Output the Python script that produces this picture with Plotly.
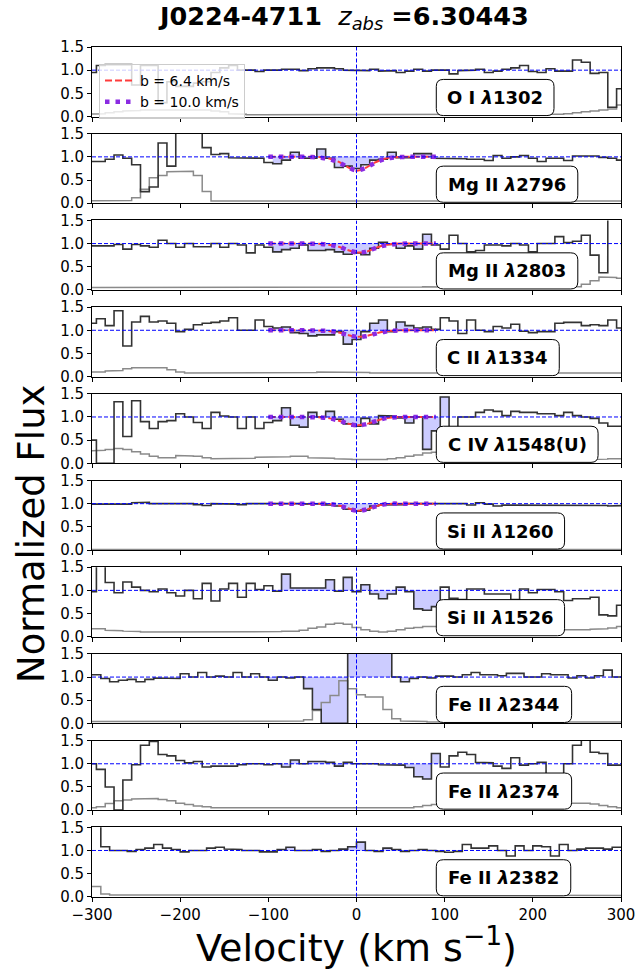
import numpy as np
import plotly.graph_objects as go

# ---------------- data ----------------
V10 = np.arange(-300, 301, 10)      # bin centres (km/s), 61 bins
V5 = np.arange(-295, 296, 10)       # bin centres (km/s), 60 bins
V_MODEL = np.arange(-100, 91, 10)   # model sampling (km/s)

IONS = ["O I", "Mg II", "Mg II", "C II", "C IV", "Si II", "Si II", "Fe II", "Fe II", "Fe II"]
WAVES = ["1302", "2796", "2803", "1334", "1548(U)", "1260", "1526", "2344", "2374", "2382"]

flux_OI1302 = [0.95, 1.10, 1.12, 1.12, 1.12, 0.68, 1.10, 1.10, 0.30, 0.75, 0.65,
               0.65, 0.72, 0.75, 0.95, 1.05, 1.10, 1.00, 1.00, 0.97, 1.00,
               1.00, 1.02, 1.02, 0.99, 1.03, 1.05, 1.05, 1.03, 1.00, 1.00,
               0.99, 1.02, 0.98, 0.99, 0.95, 0.98, 1.02, 0.98, 1.00, 1.00,
               0.92, 0.99, 1.00, 1.02, 0.95, 0.98, 1.02, 1.05, 1.10, 0.97,
               0.95, 1.03, 0.98, 0.98, 1.22, 1.17, 0.93, 0.95, 0.20, 0.60]
err_OI1302 = [0.05, 0.06, 0.08, 0.10, 0.12, 0.13, 0.14, 0.14, 0.14, 0.14, 0.14,
              0.14, 0.14, 0.14, 0.12, 0.10, 0.06, 0.05, 0.04, 0.04, 0.04,
              0.04, 0.04, 0.04, 0.04, 0.04, 0.04, 0.04, 0.04, 0.05, 0.05,
              0.05, 0.04, 0.04, 0.04, 0.04, 0.04, 0.04, 0.04, 0.04, 0.04,
              0.04, 0.04, 0.04, 0.04, 0.04, 0.04, 0.04, 0.04, 0.04, 0.04,
              0.04, 0.04, 0.05, 0.06, 0.08, 0.10, 0.12, 0.14, 0.16, 0.25]

flux_MgII2796 = [0.90, 0.90, 0.95, 1.04, 0.97, 0.83, 0.25, 0.35, 1.30, 0.80, 1.60,
                 1.60, 1.60, 1.20, 1.05, 1.07, 0.98, 0.98, 0.98, 0.97, 0.88,
                 0.85, 0.93, 1.10, 0.97, 0.97, 1.17, 0.97, 0.77, 0.80, 0.75,
                 0.83, 0.93, 0.95, 1.10, 0.98, 0.98, 1.07, 1.07, 0.97, 0.97,
                 0.96, 0.96, 0.95, 0.95, 0.92, 1.03, 0.97, 1.00, 1.03, 0.97,
                 0.90, 0.97, 0.97, 0.92, 1.02, 1.03, 1.02, 0.99, 0.97, 0.93]
err_MgII2796 = [0.05, 0.05, 0.05, 0.05, 0.06, 0.12, 0.30, 0.55, 0.60, 0.68, 0.69,
                0.69, 0.60, 0.25, 0.05, 0.05, 0.05, 0.05, 0.05, 0.05, 0.05,
                0.05, 0.05, 0.05, 0.06, 0.06, 0.06, 0.06, 0.06, 0.06, 0.06,
                0.06, 0.06, 0.05, 0.05, 0.05, 0.05, 0.05, 0.05, 0.05, 0.05,
                0.05, 0.05, 0.05, 0.05, 0.05, 0.05, 0.05, 0.05, 0.05, 0.05,
                0.05, 0.05, 0.05, 0.05, 0.05, 0.05, 0.05, 0.05, 0.05, 0.05]

flux_MgII2803 = [0.95, 0.95, 0.95, 0.98, 0.88, 0.98, 0.95, 0.92, 1.07, 1.00, 0.92,
                 1.00, 0.93, 0.93, 1.00, 0.92, 1.00, 0.97, 0.80, 0.97, 0.92,
                 0.82, 0.87, 0.90, 0.97, 0.85, 0.85, 0.87, 0.82, 0.77, 0.80,
                 0.76, 0.90, 1.03, 0.98, 0.90, 0.95, 0.88, 1.20, 0.97, 0.88,
                 1.18, 1.00, 0.82, 0.85, 0.97, 0.97, 0.95, 1.00, 0.97, 0.82,
                 1.00, 1.00, 1.15, 1.02, 1.05, 1.18, 0.75, 0.37, 1.60, 1.60]
err_MgII2803 = [0.05, 0.05, 0.05, 0.05, 0.05, 0.05, 0.05, 0.05, 0.05, 0.05, 0.05,
                0.05, 0.05, 0.05, 0.05, 0.05, 0.05, 0.05, 0.05, 0.05, 0.05,
                0.05, 0.05, 0.05, 0.05, 0.05, 0.05, 0.05, 0.05, 0.05, 0.05,
                0.05, 0.05, 0.05, 0.05, 0.05, 0.06, 0.06, 0.07, 0.07, 0.07,
                0.07, 0.07, 0.06, 0.06, 0.05, 0.05, 0.05, 0.05, 0.05, 0.05,
                0.05, 0.05, 0.05, 0.06, 0.07, 0.12, 0.20, 0.28, 0.27, 0.25]

flux_CII1334 = [1.15, 1.25, 1.10, 1.42, 0.66, 1.18, 1.30, 1.18, 1.20, 1.15, 0.97,
                1.02, 1.12, 1.15, 1.17, 1.20, 1.27, 1.00, 1.00, 1.22, 1.08,
                1.05, 1.07, 0.95, 0.93, 0.88, 0.90, 0.90, 0.97, 0.70, 0.80,
                0.97, 1.15, 1.22, 0.97, 1.18, 1.10, 1.05, 1.07, 1.02, 1.27,
                1.20, 0.93, 1.22, 1.00, 0.97, 1.08, 1.05, 1.13, 0.98, 0.95,
                0.97, 0.97, 1.15, 1.17, 1.17, 1.10, 1.12, 1.10, 1.22, 1.05]
err_CII1334 = [0.10, 0.10, 0.12, 0.13, 0.17, 0.19, 0.20, 0.20, 0.19, 0.15, 0.10,
               0.08, 0.08, 0.08, 0.08, 0.08, 0.08, 0.08, 0.08, 0.08, 0.08,
               0.08, 0.08, 0.08, 0.08, 0.09, 0.10, 0.10, 0.10, 0.10, 0.10,
               0.09, 0.08, 0.08, 0.08, 0.08, 0.08, 0.08, 0.08, 0.08, 0.08,
               0.08, 0.08, 0.08, 0.08, 0.08, 0.08, 0.08, 0.08, 0.08, 0.08,
               0.08, 0.08, 0.08, 0.08, 0.08, 0.08, 0.08, 0.08, 0.08, 0.08]

flux_CIV1548 = [0.50, 0.00, 0.00, 1.33, 0.58, 1.35, 0.90, 0.75, 0.90, 0.92, 1.07,
                1.00, 0.88, 0.75, 1.10, 1.02, 1.00, 0.75, 1.00, 0.75, 0.88,
                0.92, 1.20, 0.82, 0.78, 1.10, 1.00, 1.12, 0.95, 0.85, 0.80,
                0.97, 0.85, 1.03, 1.02, 0.98, 0.87, 1.00, 0.30, 0.70, 1.43,
                0.55, 1.00, 1.00, 1.10, 1.15, 1.12, 1.03, 1.12, 1.10, 1.10,
                1.07, 1.07, 1.03, 1.10, 1.03, 1.00, 0.97, 0.87, 0.80, 0.80]
err_CIV1548 = [0.27, 0.28, 0.30, 0.32, 0.30, 0.25, 0.20, 0.15, 0.12, 0.12, 0.17,
               0.16, 0.15, 0.12, 0.10, 0.10, 0.10, 0.11, 0.11, 0.13, 0.13,
               0.14, 0.14, 0.15, 0.15, 0.12, 0.12, 0.11, 0.10, 0.09, 0.08,
               0.07, 0.07, 0.08, 0.10, 0.12, 0.15, 0.18, 0.22, 0.24, 0.25,
               0.25, 0.24, 0.22, 0.21, 0.20, 0.19, 0.18, 0.17, 0.16, 0.15,
               0.14, 0.13, 0.12, 0.11, 0.10, 0.09, 0.08, 0.09, 0.10, 0.10]

flux_SiII1260 = [0.99, 0.99, 0.99, 0.99, 0.99, 1.02, 1.03, 1.00, 1.00, 1.00, 1.00,
                 1.00, 0.98, 0.96, 1.00, 1.00, 0.99, 0.98, 1.00, 1.00, 1.01,
                 1.00, 1.00, 1.00, 0.99, 1.00, 1.00, 0.97, 0.95, 0.88, 0.84,
                 0.86, 0.95, 0.97, 0.98, 0.98, 1.00, 1.00, 1.00, 1.00, 1.00,
                 1.00, 1.00, 0.97, 1.02, 0.99, 0.95, 0.97, 0.97, 0.97, 0.97,
                 0.97, 0.97, 0.97, 0.96, 0.96, 0.96, 0.96, 0.96, 0.95, 0.96]
err_SiII1260 = [0.01] * 61

flux_SiII1526 = [0.97, 1.60, 1.17, 0.95, 1.18, 1.07, 1.00, 0.97, 1.03, 0.95, 0.88,
                 1.00, 0.82, 1.15, 0.77, 1.03, 1.15, 0.85, 1.15, 1.02, 1.10,
                 0.98, 1.35, 1.05, 1.05, 1.05, 1.05, 1.23, 0.98, 1.28, 0.97,
                 1.12, 0.92, 0.82, 0.92, 1.07, 0.97, 0.60, 0.57, 0.65, 1.07,
                 0.83, 0.80, 1.03, 1.03, 0.92, 0.92, 0.92, 0.80, 1.03, 0.95,
                 1.02, 1.02, 0.97, 0.78, 0.82, 0.82, 0.85, 0.47, 0.45, 0.68]
err_SiII1526 = [0.17, 0.17, 0.14, 0.13, 0.12, 0.11, 0.10, 0.10, 0.10, 0.10, 0.10,
                0.10, 0.10, 0.10, 0.10, 0.10, 0.10, 0.10, 0.10, 0.10, 0.10,
                0.11, 0.12, 0.12, 0.14, 0.18, 0.21, 0.27, 0.29, 0.27, 0.20,
                0.15, 0.12, 0.10, 0.12, 0.15, 0.18, 0.20, 0.22, 0.23, 0.22,
                0.22, 0.21, 0.21, 0.20, 0.20, 0.19, 0.18, 0.18, 0.17, 0.16,
                0.16, 0.15, 0.14, 0.14, 0.14, 0.15, 0.16, 0.17, 0.19, 0.22]

flux_FeII2344 = [1.05, 0.97, 0.90, 0.93, 0.95, 0.90, 0.95, 0.98, 0.97, 0.97,
                 1.07, 1.00, 1.10, 1.00, 1.02, 1.00, 1.10, 1.00, 1.07, 1.00,
                 0.93, 1.00, 0.98, 1.00, 0.75, 0.30, 0.00, 0.00, 0.00, 1.60,
                 1.60, 1.60, 1.60, 1.60, 1.00, 0.90, 0.97, 1.00, 0.98, 1.02,
                 1.02, 1.00, 1.05, 1.10, 1.05, 1.05, 1.03, 1.08, 1.08, 1.00,
                 1.00, 1.07, 1.05, 1.05, 0.98, 1.03, 0.98, 1.03, 1.15, 1.00]
err_FeII2344 = [0.04, 0.04, 0.04, 0.04, 0.05, 0.05, 0.04, 0.04, 0.05, 0.04,
                0.04, 0.05, 0.05, 0.04, 0.04, 0.04, 0.04, 0.04, 0.04, 0.04,
                0.04, 0.04, 0.04, 0.05, 0.08, 0.28, 0.45, 0.60, 0.92, 0.75,
                0.62, 0.57, 0.57, 0.30, 0.10, 0.05, 0.04, 0.04, 0.03, 0.03,
                0.03, 0.03, 0.03, 0.03, 0.03, 0.03, 0.03, 0.03, 0.03, 0.03,
                0.03, 0.03, 0.03, 0.03, 0.03, 0.03, 0.03, 0.03, 0.03, 0.03]

flux_FeII2374 = [1.00, 0.88, 0.50, 0.00, 0.65, 0.98, 1.40, 1.48, 1.20, 1.17, 1.07,
                 1.02, 1.05, 0.93, 0.95, 0.96, 0.95, 0.98, 1.00, 1.00, 0.98,
                 1.00, 0.93, 1.08, 1.00, 1.05, 1.05, 1.03, 0.95, 1.03, 1.00,
                 1.00, 1.00, 0.98, 0.97, 0.97, 0.92, 0.72, 0.67, 1.22, 0.93,
                 1.17, 1.25, 1.20, 1.03, 1.02, 0.95, 0.90, 1.13, 0.97, 1.00,
                 1.03, 0.60, 0.75, 1.00, 1.40, 1.55, 1.25, 1.22, 0.97, 0.97]
err_FeII2374 = [0.05, 0.07, 0.14, 0.20, 0.22, 0.24, 0.25, 0.25, 0.23, 0.20, 0.15,
                0.12, 0.09, 0.07, 0.05, 0.05, 0.05, 0.05, 0.05, 0.05, 0.05,
                0.05, 0.05, 0.05, 0.05, 0.05, 0.05, 0.05, 0.05, 0.05, 0.05,
                0.05, 0.05, 0.05, 0.05, 0.05, 0.05, 0.07, 0.10, 0.12, 0.13,
                0.12, 0.12, 0.12, 0.12, 0.12, 0.12, 0.11, 0.11, 0.10, 0.10,
                0.10, 0.12, 0.13, 0.15, 0.15, 0.15, 0.13, 0.10, 0.07, 0.05]

flux_FeII2382 = [1.55, 1.08, 1.00, 1.00, 0.98, 1.02, 1.05, 1.13, 1.05, 1.02,
                 0.97, 1.00, 1.00, 1.05, 1.07, 1.03, 1.02, 1.00, 1.00, 0.97,
                 0.97, 1.02, 1.07, 1.00, 1.00, 1.02, 0.98, 1.00, 1.03, 1.08,
                 1.18, 1.00, 0.98, 1.05, 1.02, 0.98, 1.00, 1.02, 1.00, 0.98,
                 0.96, 0.98, 1.13, 1.05, 1.05, 1.10, 1.00, 0.88, 1.10, 1.00,
                 1.10, 1.08, 0.88, 1.13, 1.00, 1.03, 1.05, 1.05, 1.03, 1.07]
err_FeII2382 = [0.22, 0.06, 0.04, 0.03, 0.03, 0.03, 0.03, 0.03, 0.03, 0.03,
                0.03, 0.03, 0.03, 0.03, 0.03, 0.03, 0.03, 0.03, 0.03, 0.03,
                0.03, 0.03, 0.03, 0.03, 0.03, 0.03, 0.03, 0.04, 0.04, 0.04,
                0.04, 0.04, 0.03, 0.03, 0.03, 0.03, 0.03, 0.03, 0.03, 0.03,
                0.03, 0.03, 0.03, 0.03, 0.03, 0.03, 0.03, 0.03, 0.03, 0.03,
                0.03, 0.03, 0.03, 0.03, 0.03, 0.03, 0.03, 0.03, 0.03, 0.03]

# Voigt-profile models, b = 6.4 and b = 10.0 km/s
model64_MgII2796 = [1.00, 1.00, 1.00, 1.00, 1.00, 1.00, 0.99, 0.96, 0.89, 0.78, 0.70, 0.76, 0.87, 0.95, 0.99, 1.00, 1.00, 1.00, 1.00, 1.00]
model10_MgII2796 = [1.00, 1.00, 1.00, 1.00, 1.00, 0.995, 0.98, 0.95, 0.88, 0.78, 0.71, 0.76, 0.86, 0.94, 0.98, 0.995, 1.00, 1.00, 1.00, 1.00]
model64_MgII2803 = [1.00, 1.00, 1.00, 1.00, 1.00, 1.00, 0.99, 0.97, 0.93, 0.86, 0.81, 0.82, 0.89, 0.96, 0.99, 1.00, 1.00, 1.00, 1.00, 1.00]
model10_MgII2803 = [1.00, 1.00, 1.00, 1.00, 1.00, 0.995, 0.99, 0.97, 0.93, 0.86, 0.81, 0.82, 0.89, 0.95, 0.98, 0.995, 1.00, 1.00, 1.00, 1.00]
model64_CII1334 = [1.00, 1.00, 1.00, 1.00, 1.00, 1.00, 0.99, 0.98, 0.95, 0.90, 0.86, 0.87, 0.92, 0.97, 0.99, 1.00, 1.00, 1.00, 1.00, 1.00]
model10_CII1334 = [1.00, 1.00, 1.00, 1.00, 1.00, 0.995, 0.99, 0.98, 0.95, 0.90, 0.86, 0.87, 0.92, 0.96, 0.99, 0.995, 1.00, 1.00, 1.00, 1.00]
model64_CIV1548 = [1.00, 1.00, 1.00, 1.00, 1.00, 1.00, 0.99, 0.97, 0.92, 0.86, 0.82, 0.84, 0.90, 0.96, 0.99, 1.00, 1.00, 1.00, 1.00, 1.00]
model10_CIV1548 = [1.00, 1.00, 1.00, 1.00, 1.00, 0.995, 0.99, 0.97, 0.92, 0.86, 0.82, 0.84, 0.90, 0.96, 0.99, 0.995, 1.00, 1.00, 1.00, 1.00]
model64_SiII1260 = [1.00, 1.00, 1.00, 1.00, 1.00, 1.00, 1.00, 0.99, 0.96, 0.90, 0.85, 0.87, 0.93, 0.98, 1.00, 1.00, 1.00, 1.00, 1.00, 1.00]
model10_SiII1260 = [1.00, 1.00, 1.00, 1.00, 1.00, 1.00, 1.00, 0.99, 0.96, 0.90, 0.85, 0.87, 0.93, 0.98, 1.00, 1.00, 1.00, 1.00, 1.00, 1.00]

PANELS = [
    dict(v=V10, flux=flux_OI1302, err=err_OI1302, win=None, m64=None, m10=None),
    dict(v=V10, flux=flux_MgII2796, err=err_MgII2796, win=(-95, 95), m64=model64_MgII2796, m10=model10_MgII2796),
    dict(v=V10, flux=flux_MgII2803, err=err_MgII2803, win=(-95, 95), m64=model64_MgII2803, m10=model10_MgII2803),
    dict(v=V10, flux=flux_CII1334, err=err_CII1334, win=(-95, 95), m64=model64_CII1334, m10=model10_CII1334),
    dict(v=V10, flux=flux_CIV1548, err=err_CIV1548, win=(-95, 105), m64=model64_CIV1548, m10=model10_CIV1548),
    dict(v=V10, flux=flux_SiII1260, err=err_SiII1260, win=(-95, 95), m64=model64_SiII1260, m10=model10_SiII1260),
    dict(v=V10, flux=flux_SiII1526, err=err_SiII1526, win=(-95, 95), m64=None, m10=None),
    dict(v=V5, flux=flux_FeII2344, err=err_FeII2344, win=(-100, 100), m64=None, m10=None),
    dict(v=V10, flux=flux_FeII2374, err=err_FeII2374, win=(-95, 95), m64=None, m10=None),
    dict(v=V5, flux=flux_FeII2382, err=err_FeII2382, win=(-100, 100), m64=None, m10=None),
]
for p in PANELS:
    assert len(p["v"]) == len(p["flux"]) == len(p["err"]), (len(p["v"]), len(p["flux"]), len(p["err"]))

# ---------------- layout constants ----------------
W, H = 638, 974
ML, MR, MT, MB = 92, 17, 47, 77
PW, PH = W - ML - MR, H - MT - MB
PANEL_PITCH = 86.7
PANEL_H = 69.5
BOX_RIGHT = [224, 251, 251, 230, 274, 236, 236, 244, 244, 243]
BOX_LEFT = 90.5
FONT = "DejaVu Sans"


def step_xy(v, y, half=5.0):
    v = np.asarray(v, float)
    y = np.asarray(y, float)
    xs = np.column_stack([v - half, v + half]).ravel()
    ys = np.column_stack([y, y]).ravel()
    return xs, ys


def px_to_paper_y(py):
    return (H - MB - py) / PH


def px_to_paper_x(px):
    return (px - ML) / PW


fig = go.Figure()
shapes = []
annotations = []
legend_done = False

for i, p in enumerate(PANELS):
    n = i + 1
    xa = "x" if n == 1 else f"x{n}"
    ya = "y" if n == 1 else f"y{n}"
    v = np.asarray(p["v"])
    flux = np.asarray(p["flux"])
    err = np.asarray(p["err"])

    # shaded absorption window
    if p["win"] is not None:
        lo, hi = p["win"]
        m = (v > lo) & (v < hi)
        fx, fy = step_xy(v[m], flux[m])
        fx = np.concatenate([fx, [fx[-1], fx[0]]])
        fy = np.concatenate([fy, [1.0, 1.0]])
        fig.add_trace(go.Scatter(x=fx, y=fy, mode="lines", fill="toself",
                                 fillcolor="rgba(0,0,255,0.2)",
                                 line=dict(color="rgba(0,0,255,0.12)", width=0.8),
                                 showlegend=False, hoverinfo="skip", xaxis=xa, yaxis=ya))

    ex, ey = step_xy(v, err)
    fig.add_trace(go.Scatter(x=ex, y=ey, mode="lines", line=dict(color="#8a8a8a", width=1.5),
                             showlegend=False, hoverinfo="skip", xaxis=xa, yaxis=ya))
    sx, sy = step_xy(v, flux)
    fig.add_trace(go.Scatter(x=sx, y=sy, mode="lines", line=dict(color="#333333", width=1.6),
                             showlegend=False, hoverinfo="skip", xaxis=xa, yaxis=ya))

    if p["m64"] is not None:
        fig.add_trace(go.Scatter(x=V_MODEL, y=p["m64"], mode="lines", line_shape="spline",
                                 line=dict(color="#ff3c3c", width=2, dash="7px,3px"),
                                 name="b = 6.4 km/s", showlegend=not legend_done,
                                 legendrank=1, xaxis=xa, yaxis=ya))
        fig.add_trace(go.Scatter(x=V_MODEL, y=p["m10"], mode="lines", line_shape="spline",
                                 line=dict(color="#8a2be2", width=4.5, dash="4.5px,6px"),
                                 name="b = 10.0 km/s", showlegend=not legend_done,
                                 legendrank=2, xaxis=xa, yaxis=ya))
        legend_done = True

    # reference lines
    shapes.append(dict(type="line", xref=xa, yref=ya, x0=-300, x1=300, y0=1, y1=1,
                       line=dict(color="blue", width=1, dash="4px,2px")))
    shapes.append(dict(type="line", xref=xa, yref=ya, x0=0, x1=0, y0=0, y1=1.5,
                       line=dict(color="blue", width=1, dash="4px,2px")))

    # label box (rounded)
    x0, x1, y0, y1 = BOX_LEFT, BOX_RIGHT[i], 0.02, 0.80
    rx, ry = 8.0, 0.15
    path = (f"M {x0+rx},{y0} L {x1-rx},{y0} Q {x1},{y0} {x1},{y0+ry} "
            f"L {x1},{y1-ry} Q {x1},{y1} {x1-rx},{y1} L {x0+rx},{y1} "
            f"Q {x0},{y1} {x0},{y1-ry} L {x0},{y0+ry} Q {x0},{y0} {x0+rx},{y0} Z")
    shapes.append(dict(type="path", path=path, xref=xa, yref=ya, fillcolor="white",
                       line=dict(color="black", width=1), layer="above"))
    annotations.append(dict(x=(x0 + x1) / 2, y=0.41, xref=xa, yref=ya, showarrow=False,
                            text=f"<b>{IONS[i]} <i>λ</i>{WAVES[i]}</b>",
                            font=dict(family=FONT, size=18, color="black"),
                            xanchor="center", yanchor="middle"))

    # axes
    top_px = MT + PANEL_PITCH * i
    dom = [px_to_paper_y(top_px + PANEL_H), px_to_paper_y(top_px)]
    xkey = "xaxis" if n == 1 else f"xaxis{n}"
    ykey = "yaxis" if n == 1 else f"yaxis{n}"
    fig.layout[xkey] = dict(domain=[0, 1], anchor=ya, range=[-300, 300],
                            tickvals=[-300, -200, -100, 0, 100, 200, 300],
                            ticktext=["\u2212300", "\u2212200", "\u2212100", "0", "100", "200", "300"],
                            showticklabels=(n == len(PANELS)), ticks="outside", ticklen=4,
                            tickwidth=1, tickcolor="black", showline=True, linecolor="black",
                            linewidth=1, mirror=True, showgrid=False, zeroline=False,
                            automargin=False,
                            tickfont=dict(family=FONT, size=15, color="black"))
    fig.layout[ykey] = dict(domain=dom, anchor=xa, range=[0, 1.5],
                            tickvals=[0, 0.5, 1.0, 1.5], ticktext=["0.0", "0.5", "1.0", "1.5"],
                            ticks="outside", ticklen=4, tickwidth=1, tickcolor="black",
                            showline=True, linecolor="black", linewidth=1, mirror=True,
                            showgrid=False, zeroline=False, automargin=False,
                            tickfont=dict(family=FONT, size=15, color="black"))

# titles
annotations.append(dict(x=px_to_paper_x(343), y=px_to_paper_y(18), xref="paper", yref="paper",
                        showarrow=False, xanchor="center", yanchor="middle",
                        text="<b>J0224-4711</b>&nbsp;&nbsp;<i>z</i><sub><i>abs</i></sub> <b>=6.30443</b>",
                        font=dict(family=FONT, size=25.5, color="black")))
annotations.append(dict(x=0.5, y=px_to_paper_y(945), xref="paper", yref="paper",
                        showarrow=False, xanchor="center", yanchor="middle",
                        text="Velocity (km s<sup>\u22121</sup>)",
                        font=dict(family=FONT, size=38, color="black")))
annotations.append(dict(x=px_to_paper_x(31), y=px_to_paper_y(534), xref="paper", yref="paper",
                        showarrow=False, xanchor="center", yanchor="middle", textangle=-90,
                        text="Normalized Flux",
                        font=dict(family=FONT, size=37, color="black")))

fig.update_layout(
    width=W, height=H,
    margin=dict(l=ML, r=MR, t=MT, b=MB, autoexpand=False),
    paper_bgcolor="white", plot_bgcolor="white",
    shapes=shapes, annotations=annotations,
    showlegend=True,
    legend=dict(x=px_to_paper_x(99), y=px_to_paper_y(64), xanchor="left", yanchor="top",
                bgcolor="rgba(255,255,255,0.8)", bordercolor="#cccccc", borderwidth=1,
                font=dict(family=FONT, size=14, color="black"), itemwidth=30,
                tracegroupgap=0),
    font=dict(family=FONT),
)

fig.write_html("out.html",
               config={"displayModeBar": False},
               post_script="document.body.style.margin='0';document.body.style.padding='0';")
